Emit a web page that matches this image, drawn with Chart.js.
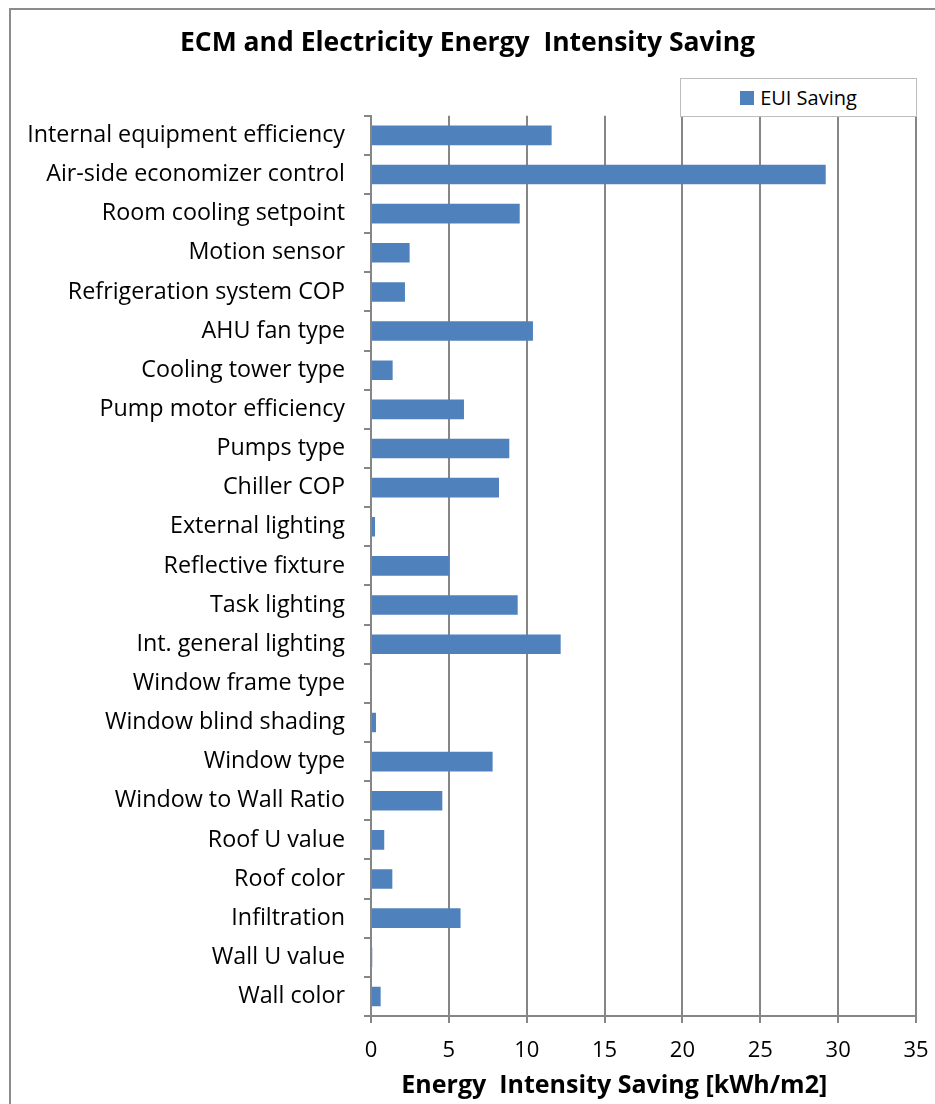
<!DOCTYPE html>
<html>
<head>
<meta charset="utf-8">
<script src="https://cdn.jsdelivr.net/npm/chart.js@4.4.0/dist/chart.umd.min.js"></script>
<style>
    html, body { margin: 0; padding: 0; background: #fff; }
    body { width: 935px; height: 1104px; position: relative; overflow: hidden; font-family: 'Open Sans', sans-serif; }
    #frame { position: absolute; left: 9px; top: 8px; width: 960px; height: 1130px; border: 2px solid #8c8c8c; box-sizing: border-box; }
    #chartWrap { position: absolute; left: 0; top: 0; width: 935px; height: 1104px; }
    #legend { position: absolute; left: 680px; top: 78px; width: 237px; height: 39px; border: 1px solid #bdbdbd; box-sizing: border-box;
              display: flex; align-items: center; justify-content: center; font-size: 20px; color: #000; background: #fff; }
    #legend .swatch { width: 14px; height: 14px; background: #4F81BD; margin-right: 6px; }
</style>
</head>
<body>
<div id="frame"></div>
<div id="chartWrap"><canvas id="ecmChart" width="935" height="1104"></canvas></div>
<div id="legend"><span class="swatch"></span><span id="legendText"></span></div>

<script>
// data (kWh/m2)
const categories = [
    'Internal equipment efficiency',
    'Air-side economizer control',
    'Room cooling setpoint',
    'Motion sensor',
    'Refrigeration system COP',
    'AHU fan type',
    'Cooling tower type',
    'Pump motor efficiency',
    'Pumps type',
    'Chiller COP',
    'External lighting',
    'Reflective fixture',
    'Task lighting',
    'Int. general lighting',
    'Window frame type',
    'Window blind shading',
    'Window type',
    'Window to Wall Ratio',
    'Roof U value',
    'Roof color',
    'Infiltration',
    'Wall U value',
    'Wall color'
];
const euiSaving = [11.6, 29.2, 9.55, 2.48, 2.18, 10.4, 1.39, 5.97, 8.88, 8.22, 0.26, 5.01, 9.42, 12.18,
                   0, 0.32, 7.81, 4.58, 0.85, 1.37, 5.75, 0.08, 0.62];
const xTickValues = [0, 5, 10, 15, 20, 25, 30, 35];
const seriesName = 'EUI Saving';

function renderEcmChart() {
    const ctx = document.getElementById('ecmChart').getContext('2d');
    document.getElementById('legendText').textContent = seriesName;

    const axisGrey = '#868686';
    const font = "'Open Sans', sans-serif";

    new Chart(ctx, {
        type: 'bar',
        data: {
            labels: categories,
            datasets: [{
                label: seriesName,
                data: euiSaving,
                backgroundColor: '#4F81BD',
                borderWidth: 0,
                categoryPercentage: 1,
                barPercentage: 0.5
            }]
        },
        options: {
            indexAxis: 'y',
            responsive: false,
            animation: false,
            // right edge of the plot comes from the "35" label overhang (half width + tick padding)
            layout: { padding: 0 },
            plugins: {
                legend: { display: false }, // drawn as html box above
                tooltip: { enabled: false },
                title: {
                    display: true,
                    text: 'ECM and Electricity Energy  Intensity Saving',
                    color: '#000',
                    font: { family: font, size: 26.5, weight: 'bold', lineHeight: 1.2 },
                    padding: { top: 28, bottom: 56 }
                }
            },
            scales: {
                x: {
                    min: 0,
                    max: 35,
                    afterBuildTicks: s => { s.ticks = xTickValues.map(v => ({ value: v })); },
                    afterFit: s => { s.height = 88; },
                    grid: { color: axisGrey, lineWidth: 2, tickLength: 7 },
                    border: { color: axisGrey, width: 2 },
                    ticks: {
                        color: '#000',
                        padding: 6.4,
                        font: { family: font, size: 22, lineHeight: 1.9 }
                    },
                    title: {
                        display: true,
                        // trailing spaces nudge the centred title left, as in the original
                        text: 'Energy  Intensity Saving [kWh/m2]' + '\u00a0'.repeat(9),
                        color: '#000',
                        font: { family: font, size: 25, weight: 'bold', lineHeight: 1.2 },
                        padding: { top: 0, bottom: 3 }
                    }
                },
                y: {
                    afterFit: s => { s.width = 371; },
                    grid: { drawOnChartArea: false, color: axisGrey, lineWidth: 2, tickLength: 7 },
                    border: { color: axisGrey, width: 2 },
                    ticks: {
                        autoSkip: false,
                        color: '#000',
                        padding: 19,
                        font: { family: font, size: 23.3 }
                    }
                }
            }
        }
    });
}

document.addEventListener('DOMContentLoaded', renderEcmChart);
</script>
</body>
</html>
